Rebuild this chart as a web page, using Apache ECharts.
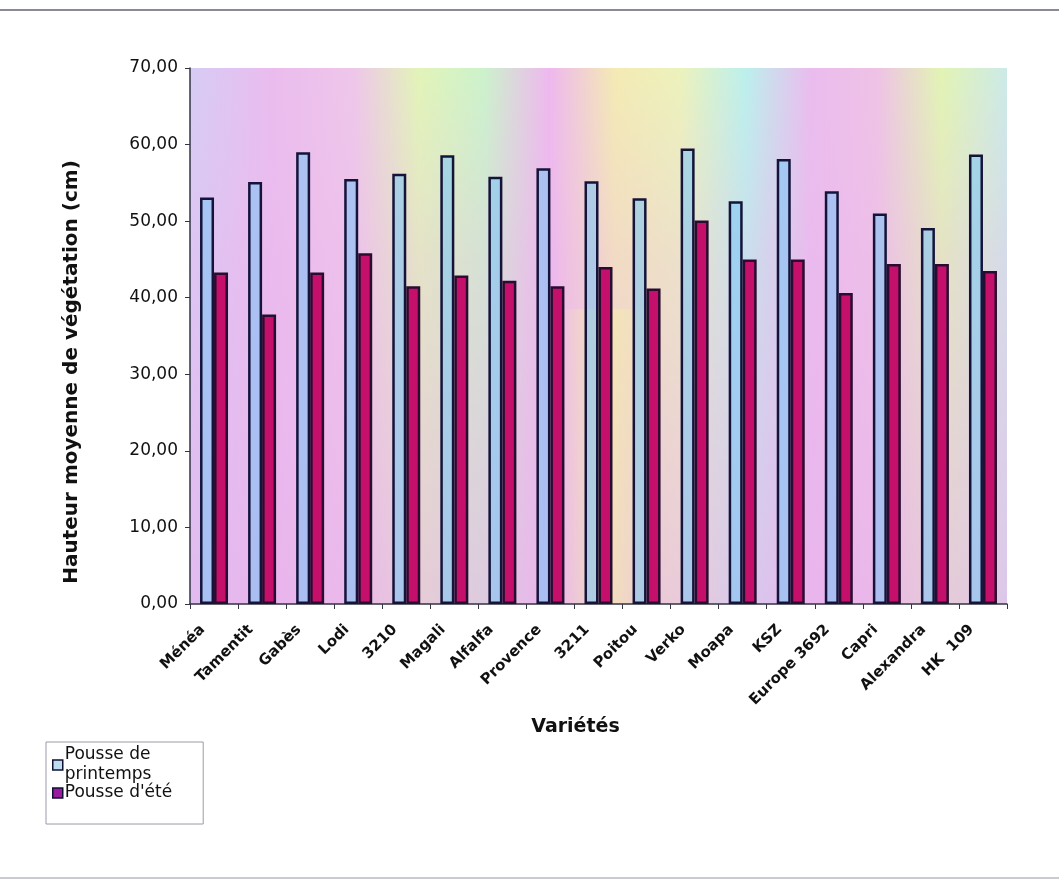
<!DOCTYPE html>
<html>
<head>
<meta charset="utf-8">
<script src="https://cdn.jsdelivr.net/npm/echarts@6/dist/echarts.min.js"></script>
<style>
  html, body { margin: 0; padding: 0; background: #ffffff; }
  #chart { width: 1059px; height: 882px; }
</style>
</head>
<body>
<div id="chart"></div>
<script>
// Varieties on the category axis
const varietes = ['Ménéa', 'Tamentit', 'Gabès', 'Lodi', '3210', 'Magali', 'Alfalfa', 'Provence',
  '3211', 'Poitou', 'Verko', 'Moapa', 'KSZ', 'Europe 3692', 'Capri', 'Alexandra', 'HK  109'];

// Mean vegetation height (cm), spring growth
const poussePrintemps = [53.1, 55.1, 59.0, 55.5, 56.2, 58.6, 55.8, 56.9,
  55.2, 53.0, 59.5, 52.6, 58.1, 53.9, 51.0, 49.1, 58.7];

// Mean vegetation height (cm), summer growth
const pousseEte = [43.3, 37.8, 43.3, 45.8, 41.5, 42.9, 42.2, 41.5,
  44.0, 41.2, 50.1, 45.0, 45.0, 40.6, 44.4, 44.4, 43.5];

// Value axis ticks
const yMin = 0, yMax = 70, yStep = 10;

const FONT = 'DejaVu Sans, Liberation Sans, Arial, sans-serif';
const fmt = v => v.toFixed(2).replace('.', ',');

const chart = echarts.init(document.getElementById('chart'), null, { renderer: 'canvas' });

const GRID = { left: 190, right: 52, top: 68, bottom: 278 };
const plotW = 1059 - GRID.left - GRID.right;
const plotH = 882 - GRID.top - GRID.bottom;

chart.setOption({
  backgroundColor: '#ffffff',
  animation: false,
  textStyle: { fontFamily: FONT },
  graphic: [
    // outer frame lines of the chart sheet
    { type: 'line', z: 0, shape: { x1: 0, y1: 10, x2: 1059, y2: 10 },
      style: { stroke: '#8a8a96', lineWidth: 2 } },
    { type: 'line', z: 0, shape: { x1: 0, y1: 878, x2: 1059, y2: 878 },
      style: { stroke: '#b8b8c0', lineWidth: 1.5 } },
    // pastel wash over the lower part of the plot area
    { type: 'rect', z: 0, silent: true,
      shape: { x: GRID.left, y: GRID.top, width: plotW, height: plotH },
      style: { fill: new echarts.graphic.LinearGradient(0, 0, 0, 1, [
        { offset: 0, color: 'rgba(236,190,240,0)' },
        { offset: 0.35, color: 'rgba(236,180,238,0.28)' },
        { offset: 1, color: 'rgba(232,176,236,0.6)' }
      ]) } },
    { type: 'rect', z: 0, silent: true,
      shape: { x: GRID.left + plotW * 0.45, y: GRID.top + plotH * 0.45, width: plotW * 0.12, height: plotH * 0.55 },
      style: { fill: new echarts.graphic.LinearGradient(0, 0, 1, 0, [
        { offset: 0, color: 'rgba(245,240,180,0)' },
        { offset: 0.5, color: 'rgba(245,236,170,0.65)' },
        { offset: 1, color: 'rgba(245,240,180,0)' }
      ]) } }
  ],
  grid: {
    left: GRID.left, right: GRID.right, top: GRID.top, bottom: GRID.bottom,
    show: true,
    borderWidth: 0,
    backgroundColor: new echarts.graphic.LinearGradient(0, 0, 1, 0, [
      { offset: 0.00, color: '#d6ccf4' },
      { offset: 0.10, color: '#eabcee' },
      { offset: 0.20, color: '#eec6ea' },
      { offset: 0.28, color: '#e2f4b8' },
      { offset: 0.36, color: '#ccf2cc' },
      { offset: 0.44, color: '#eeb8ee' },
      { offset: 0.52, color: '#f4eab4' },
      { offset: 0.60, color: '#ecf2bc' },
      { offset: 0.68, color: '#bcf0ec' },
      { offset: 0.76, color: '#eabcee' },
      { offset: 0.84, color: '#eec2e6' },
      { offset: 0.92, color: '#e2f4b4' },
      { offset: 1.00, color: '#cceae8' }
    ])
  },
  legend: {
    orient: 'vertical',
    left: 46,
    top: 742,
    padding: [3, 31, 21, 6],
    itemGap: -2,
    itemWidth: 10,
    itemHeight: 10,
    icon: 'rect',
    borderColor: '#9a9aaa',
    borderWidth: 1,
    backgroundColor: '#ffffff',
    textStyle: { fontFamily: FONT, fontSize: 17, color: '#111111', lineHeight: 20, padding: [0, 0, 0, -3] },
    data: [
      { name: 'Pousse de\nprintemps', itemStyle: { color: '#bcdcf0', borderColor: '#101030', borderWidth: 1.5 } },
      { name: "Pousse d'été", itemStyle: { color: '#9a1aa0', borderColor: '#101030', borderWidth: 1.5 } }
    ]
  },
  xAxis: {
    type: 'category',
    data: varietes,
    name: 'Variétés',
    nameLocation: 'middle',
    nameGap: 114,
    nameTextStyle: { fontFamily: FONT, fontSize: 19, fontWeight: 'bold', color: '#111111', padding: [0, 46, 0, 0] },
    axisLine: { show: true, lineStyle: { color: '#333344', width: 1.5 } },
    axisTick: { show: true, alignWithLabel: false, length: 5, lineStyle: { color: '#333344' } },
    axisLabel: {
      rotate: 45,
      interval: 0,
      margin: 12,
      padding: [0, 16, 0, 0],
      fontFamily: FONT,
      fontSize: 15,
      fontWeight: 'bold',
      color: '#111111'
    },
    splitLine: { show: false }
  },
  yAxis: {
    type: 'value',
    min: yMin,
    max: yMax,
    interval: yStep,
    name: 'Hauteur moyenne de végétation (cm)',
    nameLocation: 'middle',
    nameGap: 108,
    nameRotate: 90,
    nameTextStyle: { fontFamily: FONT, fontSize: 20, fontWeight: 'bold', color: '#111111', padding: [0, 72, 0, 0] },
    axisLine: { show: true, lineStyle: { color: '#333344', width: 1.5 } },
    axisTick: { show: true, inside: false, length: 5, lineStyle: { color: '#333344' } },
    axisLabel: {
      formatter: fmt,
      margin: 12,
      fontFamily: FONT,
      fontSize: 17,
      color: '#111111'
    },
    splitLine: { show: false }
  },
  series: [
    {
      name: 'Pousse de\nprintemps',
      type: 'bar',
      data: poussePrintemps,
      barWidth: 14,
      barGap: '0%',
      z: 3,
      itemStyle: {
        color: 'rgba(120,196,245,0.55)',
        borderColor: '#14143a',
        borderWidth: 2.5
      }
    },
    {
      name: "Pousse d'été",
      type: 'bar',
      data: pousseEte,
      barWidth: 14,
      z: 3,
      itemStyle: {
        color: '#c4106a',
        borderColor: '#2a0c30',
        borderWidth: 2.5
      }
    }
  ]
});
</script>
</body>
</html>
